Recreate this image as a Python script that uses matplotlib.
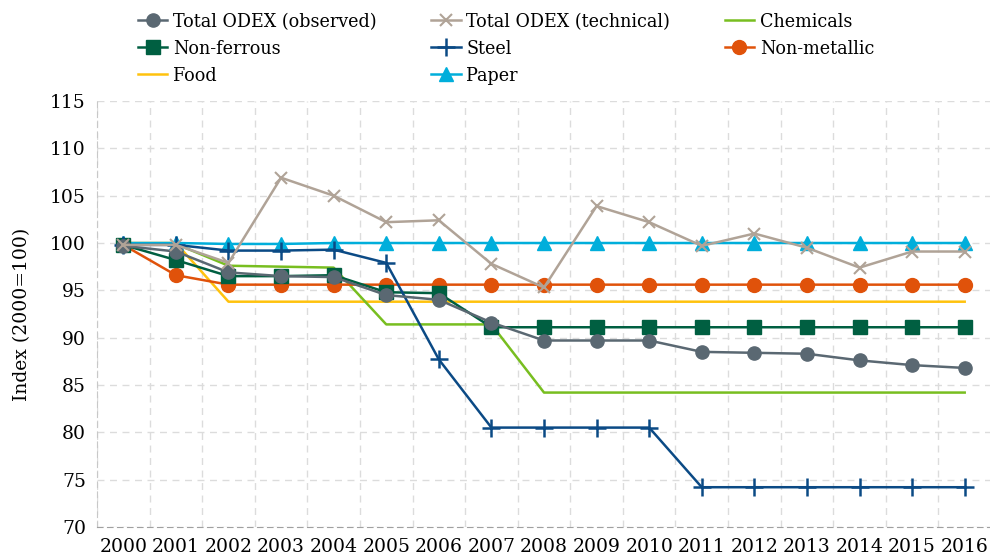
import matplotlib.pyplot as plt
import numpy as np

# años y series (índice 2000=100)
years = [str(y) for y in range(2000, 2017)]

observed = [99.7, 99.1, 96.9, 96.5, 96.4, 94.5, 94.0, 91.6, 89.7, 89.7, 89.7,
            88.5, 88.4, 88.3, 87.6, 87.1, 86.8]
technical = [99.8, 99.8, 97.9, 106.9, 105.0, 102.2, 102.4, 97.8, 95.3, 103.9, 102.2,
             99.7, 101.0, 99.5, 97.4, 99.1, 99.1]
chemicals = [99.9, 99.9, 97.6, 97.5, 97.4, 91.4, 91.4, 91.4, 84.2, 84.2, 84.2,
             84.2, 84.2, 84.2, 84.2, 84.2, 84.2]
non_ferrous = [99.8, 98.2, 96.5, 96.5, 96.6, 94.8, 94.7, 91.1, 91.1, 91.1, 91.1,
               91.1, 91.1, 91.1, 91.1, 91.1, 91.1]
steel = [99.8, 99.8, 99.2, 99.2, 99.3, 97.9, 87.7, 80.5, 80.5, 80.5, 80.5,
         74.2, 74.2, 74.2, 74.2, 74.2, 74.2]
non_metallic = [99.8, 96.6, 95.6, 95.6, 95.6, 95.6, 95.6, 95.6, 95.6, 95.6, 95.6,
                95.6, 95.6, 95.6, 95.6, 95.6, 95.6]
food = [100.0, 100.0, 93.8, 93.8, 93.8, 93.8, 93.8, 93.8, 93.8, 93.8, 93.8,
        93.8, 93.8, 93.8, 93.8, 93.8, 93.8]
paper = [100.0, 100.0, 99.9, 99.9, 100.0, 100.0, 100.0, 100.0, 100.0, 100.0, 100.0,
         100.0, 100.0, 100.0, 100.0, 100.0, 100.0]

yticks = [70, 75, 80, 85, 90, 95, 100, 105, 110, 115]

plt.rcParams['font.family'] = ['DejaVu Serif']

fig = plt.figure(figsize=(9.9, 5.56), dpi=100)
ax = fig.add_axes([0.098, 0.0522, 0.903, 0.7661])

x = np.arange(len(years))

l_food, = ax.plot(x, food, color="#ffc20e", linewidth=1.8, label="Food")
l_chem, = ax.plot(x, chemicals, color="#78be20", linewidth=1.8, label="Chemicals")
l_nm, = ax.plot(x, non_metallic, color="#e0520a", linewidth=1.8, marker="o",
                markersize=10, label="Non-metallic")
l_paper, = ax.plot(x, paper, color="#00aedb", linewidth=1.8, marker="^",
                   markersize=10.5, label="Paper")
l_nf, = ax.plot(x, non_ferrous, color="#005f41", linewidth=1.8, marker="s",
                markersize=9.5, label="Non-ferrous")
l_steel, = ax.plot(x, steel, color="#0b4a85", linewidth=1.8, marker="+",
                   markersize=13, markeredgewidth=1.8, label="Steel")
l_obs, = ax.plot(x, observed, color="#5a6872", linewidth=1.8, marker="o",
                 markersize=9.5, label="Total ODEX (observed)")
l_tech, = ax.plot(x, technical, color="#b0a397", linewidth=1.8, marker="x",
                  markersize=9, markeredgewidth=1.5, label="Total ODEX (technical)")

ax.set_xlim(-0.5, len(years) - 0.5)
ax.set_ylim(70, 115)
ax.set_xticks(x)
ax.set_xticklabels(years)
ax.set_xticks(np.arange(-0.5, len(years), 1.0), minor=True)
ax.set_yticks(yticks)
ax.tick_params(axis='both', which='both', length=0, labelsize=13.5, pad=8)

ax.grid(True, axis='y', linestyle=(0, (5, 4)), color="#dcdcdc", linewidth=1.0)
ax.grid(True, axis='x', which='minor', linestyle=(0, (5, 4)), color="#dcdcdc",
        linewidth=1.0)
ax.grid(False, axis='x', which='major')
for s in ['top', 'right']:
    ax.spines[s].set_visible(False)
ax.spines['left'].set_linestyle((0, (5, 4)))
ax.spines['left'].set_color("#c8c8c8")
ax.spines['bottom'].set_linestyle((0, (5, 4)))
ax.spines['bottom'].set_color("#a0a0a0")

ax.set_ylabel("Index (2000=100)", fontsize=13.5, labelpad=14)

handles = [l_obs, l_nf, l_food, l_tech, l_steel, l_paper, l_chem, l_nm]
fig.legend(handles=handles, labels=[h.get_label() for h in handles], ncol=3,
           loc='upper left', bbox_to_anchor=(0.122, 1.008), frameon=False,
           prop={'family': 'DejaVu Serif', 'stretch': 'condensed', 'size': 14},
           handlelength=1.5, handletextpad=0.3, columnspacing=2.8,
           labelspacing=0.45)

fig.savefig("out.png", dpi=100)
